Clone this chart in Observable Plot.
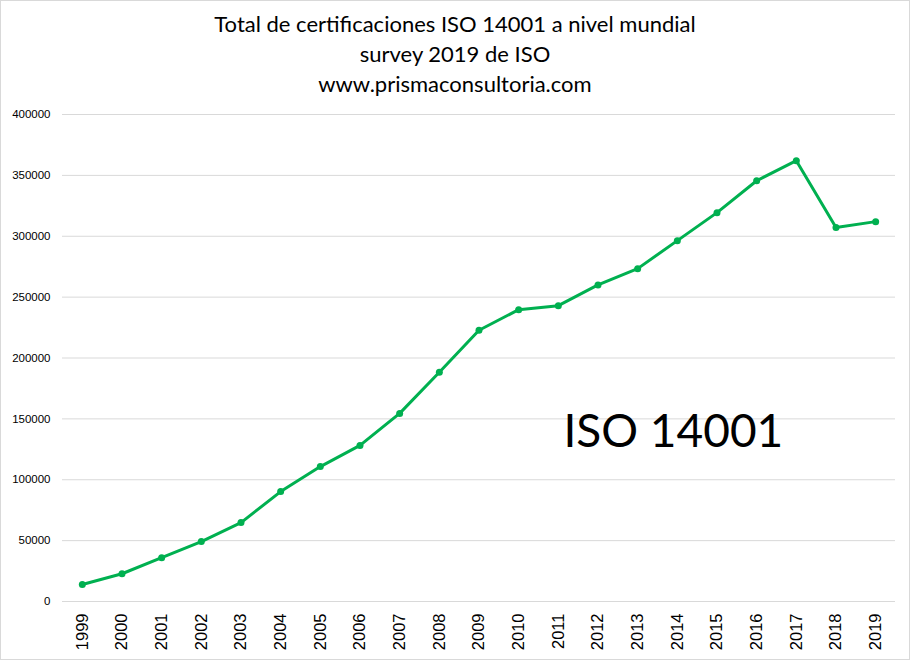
<!DOCTYPE html>
<html>
<head>
<meta charset="utf-8">
<script src="https://cdn.jsdelivr.net/npm/d3@7"></script>
<script src="https://cdn.jsdelivr.net/npm/@observablehq/plot@0.6"></script>
<style>
  html, body { margin: 0; padding: 0; background: #fff; }
  #wrap { width: 910px; height: 660px; box-sizing: border-box; border: 1px solid #d9d9d9; position: relative; overflow: hidden; }
  #title { height: 99px; text-align: center; font-family: Lato, "Open Sans", sans-serif; font-size: 22px; line-height: 30px; color: #000; padding-top: 8px; box-sizing: border-box; }
  #title div { height: 30px; }
</style>
</head>
<body>
<div id="wrap">
  <div id="title">
    <div>Total de certificaciones ISO 14001 a nivel mundial</div>
    <div>survey 2019 de ISO</div>
    <div>www.prismaconsultoria.com</div>
  </div>
  <div id="chart"></div>
</div>
<script>
const years = ["1999","2000","2001","2002","2003","2004","2005","2006","2007","2008","2009","2010","2011","2012","2013","2014","2015","2016","2017","2018","2019"];
const certificates = [14000, 22800, 36000, 49200, 64800, 90300, 110800, 128200, 154500, 188300, 222800, 239700, 243000, 260000, 273400, 296400, 319400, 345600, 362100, 307100, 312000];
const yTicks = [0, 50000, 100000, 150000, 200000, 250000, 300000, 350000, 400000];

const data = years.map((y, i) => ({year: y, value: certificates[i]}));

const chart = Plot.plot({
  width: 908,
  height: 559,
  marginTop: 14,
  marginBottom: 58,
  marginLeft: 61,
  marginRight: 14,
  style: {background: "#fff", color: "#000"},
  x: {type: "band", domain: years, label: null, padding: 0, round: false},
  y: {domain: [0, 400000], label: null},
  marks: [
    Plot.gridY(yTicks, {stroke: "#d9d9d9", strokeOpacity: 1, strokeWidth: 1}),
    Plot.axisY(yTicks, {tickSize: 0, tickPadding: 12, tickFormat: d3.format("d"), fontSize: 11.5, fontFamily: "Liberation Sans, Arial, sans-serif", label: null}),
    Plot.axisX({tickSize: 0, tickPadding: 12, tickRotate: -90, fontSize: 16.5, fontFamily: "Liberation Sans, Arial, sans-serif", label: null}),
    Plot.line(data, {x: "year", y: "value", stroke: "#00b050", strokeWidth: 3}),
    Plot.dot(data, {x: "year", y: "value", fill: "#00b050", r: 3.5}),
    Plot.text(["ISO 14001"], {x: () => "2014", y: () => 139000, dx: -4, text: d => d, fontSize: 46, fontFamily: "Lato, sans-serif", fill: "#000", textAnchor: "middle"})
  ]
});
document.getElementById("chart").appendChild(chart);
</script>
</body>
</html>
